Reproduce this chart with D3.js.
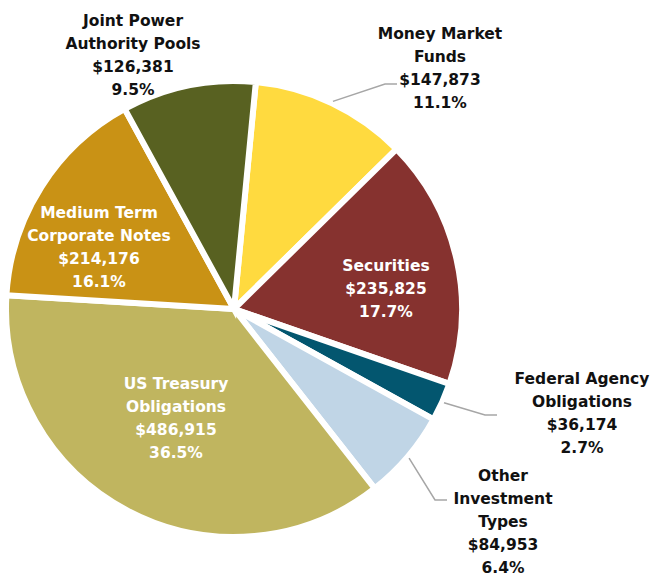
<!DOCTYPE html>
<html>
<head>
<meta charset="utf-8">
<script src="https://cdn.jsdelivr.net/npm/d3@7"></script>
<style>
  body { margin: 0; background: #fff; }
  text { font-family: "DejaVu Sans", sans-serif; font-weight: bold; }
</style>
</head>
<body>
<script>
// data, clockwise from top
var names = [
  ["Money Market", "Funds"],
  ["Securities"],
  ["Federal Agency", "Obligations"],
  ["Other", "Investment", "Types"],
  ["US Treasury", "Obligations"],
  ["Medium Term", "Corporate Notes"],
  ["Joint Power", "Authority Pools"]
];
var values = [147873, 235825, 36174, 84953, 486915, 214176, 126381];
var percents = ["11.1%", "17.7%", "2.7%", "6.4%", "36.5%", "16.1%", "9.5%"];
var colors = ["#FFDA3F", "#86322F", "#03566F", "#C0D5E6", "#C0B55F", "#C99215", "#586121"];

// layout: label centre (first line) and whether the label is inside the pie
var labelPos = [
  {x: 440, y: 33, inside: false, elbow: [385, 84], end: [397, 84]},
  {x: 386, y: 265, inside: true},
  {x: 582, y: 378, inside: false, elbow: [485, 415], end: [497, 415]},
  {x: 503, y: 475, inside: false, elbow: [435, 500], end: [447, 500]},
  {x: 176, y: 383, inside: true},
  {x: 99, y: 212, inside: true},
  {x: 133, y: 20, inside: false}
];

var width = 657, height = 577;
var cx = 234, cy = 309, r = 228;
var start = 5.5 * Math.PI / 180;

var svg = d3.select("body").append("svg")
  .attr("width", width)
  .attr("height", height);

var pie = d3.pie().sort(null).value(function(d) { return d; })
  .startAngle(start).endAngle(start + 2 * Math.PI);
var arcs = pie(values);
var arc = d3.arc().innerRadius(0).outerRadius(r);

var g = svg.append("g").attr("transform", "translate(" + cx + "," + cy + ")");
g.selectAll("path")
  .data(arcs)
  .enter()
    .append("path")
    .attr("d", arc)
    .attr("fill", function(d, i) { return colors[i]; })
    .attr("stroke", "#fff")
    .attr("stroke-width", 6)
    .attr("stroke-linejoin", "miter");

// leader lines
arcs.forEach(function(d, i) {
  var p = labelPos[i];
  if (!p.elbow) return;
  var a = (d.startAngle + d.endAngle) / 2;
  var sx = cx + (r + 2) * Math.sin(a), sy = cy - (r + 2) * Math.cos(a);
  svg.append("polyline")
    .attr("points", [[sx, sy], p.elbow, p.end].map(function(q) { return q.join(","); }).join(" "))
    .attr("fill", "none")
    .attr("stroke", "#a6a6a6")
    .attr("stroke-width", 1.5);
});

var fmt = d3.format("$,");
var lineH = 23;
arcs.forEach(function(d, i) {
  var p = labelPos[i];
  var lines = names[i].concat([fmt(values[i]), percents[i]]);
  var t = svg.append("text")
    .attr("text-anchor", "middle")
    .attr("font-size", "15.5px")
    .attr("fill", p.inside ? "#fff" : "#111");
  lines.forEach(function(s, k) {
    t.append("tspan")
      .attr("x", p.x)
      .attr("y", p.y + k * lineH + 6)
      .text(s);
  });
});
</script>
</body>
</html>
